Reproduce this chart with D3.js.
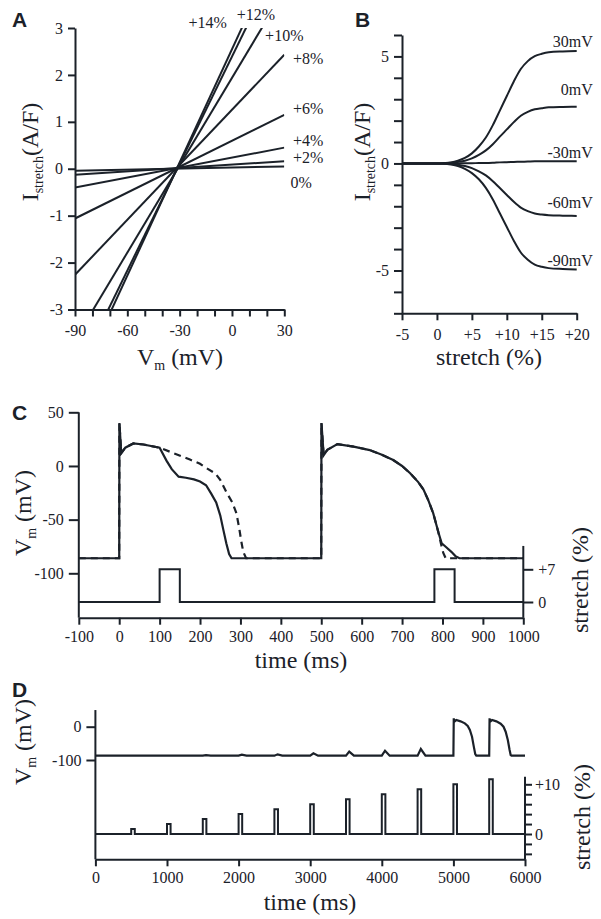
<!DOCTYPE html>
<html>
<head>
<meta charset="utf-8">
<script src="https://cdn.jsdelivr.net/npm/d3@7/dist/d3.min.js"></script>
<style>body{margin:0;background:#fff}</style>
</head>
<body>
<svg width="601" height="919"></svg>
<script>
// ---------- panel A : I-V lines for several stretch levels
let aStretchLabels = ["0%", "+2%", "+4%", "+6%", "+8%", "+10%", "+12%", "+14%"];
let aCurrentAtMinus90 = [-0.04, -0.13, -0.40, -1.06, -2.26, -3.65, -4.45, -4.69];
let aCurrentAtPlus30 = [0.05, 0.16, 0.45, 1.15, 2.43, 3.80, 4.67, 4.96];
let aVmEnds = [-90, 30];

// ---------- panel B : current vs stretch for several holding potentials
let bStretch = [-5, 0, 1, 2, 3, 4, 5, 6, 7, 8, 9, 10, 11, 12, 13, 14, 15, 16, 18, 20];
let bVoltageLabels = ["30mV", "0mV", "-30mV", "-60mV", "-90mV"];
let bI30 = [0, 0, 0.02, 0.05, 0.13, 0.26, 0.47, 0.79, 1.21, 1.79, 2.47, 3.15, 3.83, 4.41, 4.78, 5.01, 5.12, 5.19, 5.23, 5.25];
let bI0 = [0, 0, 0.01, 0.03, 0.07, 0.13, 0.24, 0.40, 0.61, 0.90, 1.25, 1.59, 1.93, 2.23, 2.41, 2.53, 2.58, 2.62, 2.64, 2.65];
let bIm30 = [0, 0, 0, 0, 0, 0.01, 0.01, 0.02, 0.02, 0.03, 0.05, 0.06, 0.07, 0.08, 0.09, 0.10, 0.10, 0.10, 0.10, 0.10];
let bIm60 = [0, 0, -0.01, -0.02, -0.06, -0.12, -0.22, -0.37, -0.56, -0.83, -1.15, -1.47, -1.79, -2.06, -2.23, -2.34, -2.39, -2.42, -2.44, -2.45];
let bIm90 = [0, 0, -0.01, -0.05, -0.12, -0.25, -0.45, -0.74, -1.14, -1.68, -2.33, -2.97, -3.61, -4.16, -4.50, -4.73, -4.83, -4.89, -4.93, -4.95];

// ---------- panel C : action potentials with / without stretch
let cTime = [-100, 0, 0.5, 5, 15, 35, 60, 100, 117, 130, 147, 165, 185, 200, 215, 228, 240, 250, 258, 265, 272, 278,
  500, 500.5, 506, 515, 540, 580, 620, 650, 678, 700, 720, 740, 753, 765, 777, 785, 790, 798, 810, 822, 832, 842, 1000];
let cVm = [-86, -86, 40, 12, 17, 21, 20, 17, 5, -3, -10, -11, -12.5, -14.5, -18, -26, -34, -46, -60, -72, -82, -86,
  -86, 40, 10, 15, 20.4, 18, 14.8, 10.5, 5.5, 0, -6.8, -15, -22, -32, -44, -55, -62, -72, -76, -80, -84, -86, -86];
let cTimeCtrl = [-100, 0, 0.5, 5, 15, 35, 60, 100, 134, 175, 200, 216, 238, 250, 266, 280, 290, 297, 302, 307, 314,
  500, 500.5, 506, 515, 540, 580, 620, 650, 678, 700, 720, 740, 753, 765, 777, 785, 790, 796, 802, 808, 1000];
let cVmCtrl = [-86, -86, 40, 12, 17, 21, 20, 17, 12, 6, 2, -2, -7, -13, -25, -34, -44, -58, -70, -80, -86,
  -86, 40, 10, 15, 20.4, 18, 14.8, 10.5, 5.5, 0, -6.8, -15, -22, -32, -44, -55, -62, -72, -81, -86, -86];
let cStretchTime = [-100, 100, 100, 150, 150, 780, 780, 830, 830, 1000];
let cStretchVal = [0, 0, 7, 7, 0, 0, 7, 7, 0, 0];

// ---------- panel D : increasing stretch pulses
let dPulseTimes = [500, 1000, 1500, 2000, 2500, 3000, 3500, 4000, 4500, 5000, 5500];
let dPulseHeights = [1, 2, 3, 4, 5, 6, 7, 8, 9, 10, 11];
let dBumpAmp = [0, 0.5, 1.5, 3, 4, 7, 12, 15, 20];
let dApTime = [5000, 5005, 5012, 5040, 5100, 5160, 5200, 5230, 5260, 5285, 5305, 5320,
  5500, 5505, 5512, 5540, 5600, 5660, 5700, 5730, 5760, 5785, 5800, 5812, 6000];
let dApVm = [-87, 25, 15, 20, 16, 10, 2, -10, -30, -60, -82, -87,
  -87, 25, 15, 20, 16, 9, 0, -15, -40, -70, -85, -87, -87];
let dRest = -87;

let svg = d3.select("svg");
let ink = "#1b2129";
let serif = "'Liberation Serif', 'Times New Roman', serif";
let plain = d => String(d);

svg.append("rect").attr("width", 601).attr("height", 919).attr("fill", "#fff");

function styleAxis(g, hideDomain) {
  g.attr("font-family", serif).attr("font-size", 16).style("color", ink);
  g.selectAll(".tick line").attr("stroke-width", 2);
  g.select(".domain").attr("stroke-width", 2);
  if (hideDomain) g.select(".domain").remove();
}

function panelLetter(txt, x, y) {
  svg.append("text").attr("x", x).attr("y", y).text(txt)
    .attr("font-family", "'Liberation Sans', Arial, sans-serif")
    .attr("font-weight", "bold").attr("font-size", 21).attr("fill", ink);
}

function title(x, y, rotate, parts, size) {
  let t = svg.append("text")
    .attr("transform", "translate(" + x + "," + y + ")" + (rotate ? " rotate(-90)" : ""))
    .attr("text-anchor", "middle")
    .attr("font-family", serif).attr("font-size", size || 24).attr("fill", ink);
  parts.forEach(function(p) {
    let s = t.append("tspan").text(p.t);
    if (p.sub) s.attr("font-size", 14).attr("dy", 5);
    if (p.up) s.attr("dy", -5);
  });
}

function currentTitle(x, y) {
  title(x, y, true, [{t: "I"}, {t: "stretch", sub: true}, {t: "(A/F)", up: true}]);
}

// ================= A =================
let xA = d3.scaleLinear().domain([-90, 30]).range([75, 284.3]);
let yA = d3.scaleLinear().domain([-3, 3]).range([309.5, 28]);

svg.append("clipPath").attr("id", "clipA").append("rect")
  .attr("x", xA(-90)).attr("y", yA(3)).attr("width", xA(30) - xA(-90)).attr("height", yA(-3) - yA(3));

let aLines = aStretchLabels.map(function(lab, i) {
  return {label: lab, pts: [[aVmEnds[0], aCurrentAtMinus90[i]], [aVmEnds[1], aCurrentAtPlus30[i]]]};
});
let lineA = d3.line().x(d => xA(d[0])).y(d => yA(d[1]));
svg.append("g").attr("clip-path", "url(#clipA)")
  .selectAll("path").data(aLines).join("path")
  .attr("d", d => lineA(d.pts))
  .attr("fill", "none").attr("stroke", ink).attr("stroke-width", 2);

let gAy = svg.append("g").attr("transform", "translate(" + xA(-90) + ",0)")
  .call(d3.axisLeft(yA).tickValues([-3, -2, -1, 0, 1, 2, 3]).tickFormat(plain).tickSize(7).tickPadding(5).tickSizeOuter(0));
styleAxis(gAy);
let gAx = svg.append("g").attr("transform", "translate(0," + yA(-3) + ")")
  .call(d3.axisBottom(xA).tickValues(d3.range(-90, 31, 10)).tickFormat(d => d % 30 === 0 ? String(d) : "").tickSize(7).tickPadding(8).tickSizeOuter(0));
styleAxis(gAx);

// line labels (anchors in data units)
let aLabelPos = [
  {v: 33.5, i: -0.41, a: "start"}, {v: 35, i: 0.12, a: "start"}, {v: 35, i: 0.48, a: "start"},
  {v: 35, i: 1.16, a: "start"}, {v: 35, i: 2.23, a: "start"}, {v: 19, i: 2.72, a: "start"},
  {v: 2.7, i: 3.17, a: "start"}, {v: -3, i: 3.0, a: "end"}
];
svg.append("g").selectAll("text").data(aLines).join("text")
  .attr("x", (d, i) => xA(aLabelPos[i].v)).attr("y", (d, i) => yA(aLabelPos[i].i))
  .attr("text-anchor", (d, i) => aLabelPos[i].a)
  .attr("font-family", serif).attr("font-size", 16).attr("fill", ink)
  .text(d => d.label);

panelLetter("A", 12, 27);
currentTitle(38, 152);
title(180, 365, false, [{t: "V"}, {t: "m", sub: true}, {t: " (mV)", up: true}]);

// ================= B =================
let xB = d3.scaleLinear().domain([-5, 20]).range([402, 576.7]);
let yB = d3.scaleLinear().domain([-7, 6]).range([313.3, 35]);
let bSeries = [bI30, bI0, bIm30, bIm60, bIm90];
let lineB = d3.line().curve(d3.curveMonotoneX).x((d, i) => xB(bStretch[i])).y(d => yB(d));
svg.append("g").selectAll("path").data(bSeries).join("path")
  .attr("d", d => lineB(d)).attr("fill", "none").attr("stroke", ink).attr("stroke-width", 2);

let gBy = svg.append("g").attr("transform", "translate(" + xB(-5) + ",0)")
  .call(d3.axisLeft(yB).tickValues(d3.range(-7, 7, 1)).tickFormat(d => d % 5 === 0 ? String(d) : "").tickSize(8).tickPadding(5).tickSizeOuter(0));
styleAxis(gBy);
let gBx = svg.append("g").attr("transform", "translate(0," + yB(-7) + ")")
  .call(d3.axisBottom(xB).tickValues([-5, 0, 5, 10, 15, 20]).tickFormat(d => d > 0 ? "+" + d : String(d)).tickSize(7).tickPadding(8).tickSizeOuter(0));
styleAxis(gBx);

let bLabelY = [5.45, 3.2, 0.25, -2.1, -4.77];
svg.append("g").selectAll("text").data(bVoltageLabels).join("text")
  .attr("x", xB(22.3)).attr("y", (d, i) => yB(bLabelY[i]))
  .attr("text-anchor", "end").attr("font-family", serif).attr("font-size", 16).attr("fill", ink)
  .text(d => d);

panelLetter("B", 355, 27);
currentTitle(370, 152);
title(489, 365, false, [{t: "stretch (%)"}]);

// ================= C =================
let xC = d3.scaleLinear().domain([-100, 1000]).range([78.8, 523.3]);
let yC = d3.scaleLinear().domain([-100, 50]).range([573.3, 412.3]);
let sC = d3.scaleLinear().domain([0, 7]).range([602, 569.3]);
let cAxisY = 617.7;

let lineC = d3.line().x(d => xC(d[0])).y(d => yC(d[1]));
svg.append("path").attr("d", lineC(cTimeCtrl.map((t, i) => [t, cVmCtrl[i]])))
  .attr("fill", "none").attr("stroke", ink).attr("stroke-width", 2.2).attr("stroke-dasharray", "7,5");
svg.append("path").attr("d", lineC(cTime.map((t, i) => [t, cVm[i]])))
  .attr("fill", "none").attr("stroke", ink).attr("stroke-width", 2.2);
let lineCs = d3.line().x(d => xC(d[0])).y(d => sC(d[1]));
svg.append("path").attr("d", lineCs(cStretchTime.map((t, i) => [t, cStretchVal[i]])))
  .attr("fill", "none").attr("stroke", ink).attr("stroke-width", 2);

let gCy = svg.append("g").attr("transform", "translate(" + xC(-100) + ",0)")
  .call(d3.axisLeft(yC).tickValues([-100, -50, 0, 50]).tickFormat(plain).tickSize(10).tickPadding(5));
styleAxis(gCy, true);
svg.append("line").attr("x1", xC(-100)).attr("x2", xC(-100)).attr("y1", yC(50)).attr("y2", cAxisY)
  .attr("stroke", ink).attr("stroke-width", 2);
let gCr = svg.append("g").attr("transform", "translate(" + xC(1000) + ",0)")
  .call(d3.axisRight(sC).tickValues([0, 7]).tickFormat(d => d > 0 ? "+" + d : String(d)).tickSize(10).tickPadding(5));
styleAxis(gCr, true);
svg.append("line").attr("x1", xC(1000)).attr("x2", xC(1000)).attr("y1", sC(12)).attr("y2", cAxisY)
  .attr("stroke", ink).attr("stroke-width", 2);
let gCx = svg.append("g").attr("transform", "translate(0," + cAxisY + ")")
  .call(d3.axisBottom(xC).tickValues(d3.range(-100, 1001, 100)).tickFormat(plain).tickSize(7).tickPadding(6).tickSizeOuter(0));
styleAxis(gCx);

panelLetter("C", 12, 420);
title(31, 513, true, [{t: "V"}, {t: "m", sub: true}, {t: " (mV)", up: true}]);
title(588, 580, true, [{t: "stretch (%)"}]);
title(301, 668, false, [{t: "time (ms)"}]);

// ================= D =================
let xD = d3.scaleLinear().domain([0, 6000]).range([95.4, 525]);
let yD = d3.scaleLinear().domain([-100, 0]).range([760, 726.7]);
let sD = d3.scaleLinear().domain([0, 10]).range([834, 784.3]);
let dAxisY = 859.3;

// Vm trace: small bumps at each sub-threshold pulse, then two APs
let dVm = [[0, dRest]];
dBumpAmp.forEach(function(a, i) {
  let t0 = dPulseTimes[i];
  dVm.push([t0, dRest], [t0 + 45, dRest + a], [t0 + 110, dRest]);
});
dApTime.forEach((t, i) => dVm.push([t, dApVm[i]]));
let lineD = d3.line().x(d => xD(d[0])).y(d => yD(d[1]));
svg.append("path").attr("d", lineD(dVm)).attr("fill", "none").attr("stroke", ink).attr("stroke-width", 2.2);

let dSt = [[0, 0]];
dPulseTimes.forEach(function(t0, i) {
  dSt.push([t0, 0], [t0, dPulseHeights[i]], [t0 + 50, dPulseHeights[i]], [t0 + 50, 0]);
});
dSt.push([6000, 0]);
let lineDs = d3.line().x(d => xD(d[0])).y(d => sD(d[1]));
svg.append("path").attr("d", lineDs(dSt)).attr("fill", "none").attr("stroke", ink).attr("stroke-width", 2);

let gDy = svg.append("g").attr("transform", "translate(" + xD(0) + ",0)")
  .call(d3.axisLeft(yD).tickValues([-100, 0]).tickFormat(plain).tickSize(9).tickPadding(5));
styleAxis(gDy, true);
svg.append("line").attr("x1", xD(0)).attr("x2", xD(0)).attr("y1", yD(50)).attr("y2", dAxisY)
  .attr("stroke", ink).attr("stroke-width", 2);
let gDr = svg.append("g").attr("transform", "translate(" + xD(6000) + ",0)")
  .call(d3.axisRight(sD).tickValues(d3.range(-4, 11, 2)).tickFormat(d => d === 10 ? "+10" : (d === 0 ? "0" : "")).tickSize(7).tickPadding(3));
styleAxis(gDr, true);
svg.append("line").attr("x1", xD(6000)).attr("x2", xD(6000)).attr("y1", sD(11.5)).attr("y2", dAxisY)
  .attr("stroke", ink).attr("stroke-width", 2);
let gDx = svg.append("g").attr("transform", "translate(0," + dAxisY + ")")
  .call(d3.axisBottom(xD).tickValues(d3.range(0, 6001, 1000)).tickFormat(plain).tickSize(7).tickPadding(5).tickSizeOuter(0));
styleAxis(gDx);

panelLetter("D", 12, 697);
title(31, 742, true, [{t: "V"}, {t: "m", sub: true}, {t: " (mV)", up: true}]);
title(590, 817, true, [{t: "stretch (%)"}]);
title(310, 910, false, [{t: "time (ms)"}]);
</script>
</body>
</html>
